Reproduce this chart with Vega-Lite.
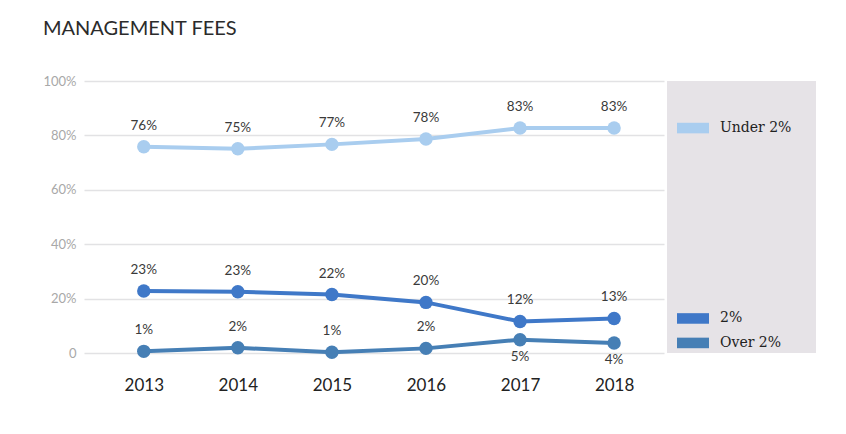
{
  "$schema": "https://vega.github.io/schema/vega-lite/v6.json",
  "background": "white",
  "padding": {"left": 42, "top": 19, "right": 5, "bottom": 5},
  "title": {
    "text": "MANAGEMENT FEES",
    "anchor": "start",
    "frame": "bounds",
    "font": "Lato",
    "fontSize": 20,
    "fontWeight": "normal",
    "color": "#2b2b2b",
    "offset": 36
  },
  "config": {
    "view": {"stroke": null},
    "font": "Lato"
  },
  "data": {
    "values": [
      {"year": "2013", "series": "Under 2%", "value": 75.8, "label": "76%"},
      {"year": "2014", "series": "Under 2%", "value": 75.1, "label": "75%"},
      {"year": "2015", "series": "Under 2%", "value": 76.7, "label": "77%"},
      {"year": "2016", "series": "Under 2%", "value": 78.7, "label": "78%"},
      {"year": "2017", "series": "Under 2%", "value": 82.7, "label": "83%"},
      {"year": "2018", "series": "Under 2%", "value": 82.7, "label": "83%"},
      {"year": "2013", "series": "2%", "value": 22.8, "label": "23%"},
      {"year": "2014", "series": "2%", "value": 22.5, "label": "23%"},
      {"year": "2015", "series": "2%", "value": 21.5, "label": "22%"},
      {"year": "2016", "series": "2%", "value": 18.6, "label": "20%"},
      {"year": "2017", "series": "2%", "value": 11.6, "label": "12%"},
      {"year": "2018", "series": "2%", "value": 12.7, "label": "13%"},
      {"year": "2013", "series": "Over 2%", "value": 0.6, "label": "1%"},
      {"year": "2014", "series": "Over 2%", "value": 1.9, "label": "2%"},
      {"year": "2015", "series": "Over 2%", "value": 0.3, "label": "1%"},
      {"year": "2016", "series": "Over 2%", "value": 1.7, "label": "2%"},
      {"year": "2017", "series": "Over 2%", "value": 4.9, "label": "5%"},
      {"year": "2018", "series": "Over 2%", "value": 3.7, "label": "4%"}
    ]
  },
  "spacing": 3,
  "hconcat": [
    {
      "width": 580,
      "height": 272,
      "encoding": {
        "x": {
          "field": "year",
          "type": "ordinal",
          "scale": {"type": "point", "padding": 0.583, "align": 0.545},
          "axis": {
            "title": null,
            "domain": false,
            "ticks": false,
            "grid": false,
            "labelAngle": 0,
            "labelPadding": 24,
            "labelFont": "Lato",
            "labelFontSize": 17,
            "labelFontWeight": "normal",
            "labelColor": "#222222"
          }
        },
        "y": {
          "field": "value",
          "type": "quantitative",
          "scale": {"domain": [0, 100], "nice": false},
          "axis": {
            "title": null,
            "values": [0, 20, 40, 60, 80, 100],
            "labelExpr": "datum.value == 0 ? '0' : datum.value + '%'",
            "domain": false,
            "ticks": false,
            "labelPadding": 8,
            "labelFont": "Lato",
            "labelFontSize": 13,
            "labelColor": "#a8a8a8",
            "gridColor": "#e2e2e4",
            "gridWidth": 1.5
          }
        },
        "color": {
          "field": "series",
          "type": "nominal",
          "scale": {
            "domain": ["Under 2%", "2%", "Over 2%"],
            "range": ["#a9cdef", "#3f78c8", "#467fb5"]
          },
          "legend": null
        }
      },
      "layer": [
        {"mark": {"type": "line", "strokeWidth": 4}},
        {"mark": {"type": "circle", "size": 180, "opacity": 1}},
        {
          "transform": [{"filter": "!(datum.series == 'Over 2%' && (datum.year == '2017' || datum.year == '2018'))"}],
          "mark": {"type": "text", "dy": -21, "fontSize": 13.5, "color": "#3a3a3a", "font": "Lato"},
          "encoding": {"text": {"field": "label"}, "color": {"value": "#3a3a3a"}}
        },
        {
          "transform": [{"filter": "datum.series == 'Over 2%' && (datum.year == '2017' || datum.year == '2018')"}],
          "mark": {"type": "text", "dy": 17, "fontSize": 13.5, "color": "#3a3a3a", "font": "Lato"},
          "encoding": {"text": {"field": "label"}, "color": {"value": "#3a3a3a"}}
        }
      ]
    },
    {
      "width": 149,
      "height": 272,
      "view": {"fill": "#e6e3e7", "stroke": null},
      "transform": [{"filter": "datum.year == '2018'"}],
      "encoding": {
        "y": {
          "field": "value",
          "type": "quantitative",
          "scale": {"domain": [0, 100], "nice": false},
          "axis": null
        },
        "color": {
          "field": "series",
          "type": "nominal",
          "scale": {
            "domain": ["Under 2%", "2%", "Over 2%"],
            "range": ["#a9cdef", "#3f78c8", "#467fb5"]
          },
          "legend": null
        }
      },
      "layer": [
        {
          "mark": {
            "type": "point",
            "filled": true,
            "opacity": 1,
            "size": 1024,
            "shape": "M-1,-0.33L1,-0.33L1,0.33L-1,0.33Z",
            "xOffset": -48.5
          }
        },
        {
          "mark": {
            "type": "text",
            "align": "left",
            "dx": -21.5,
            "font": "DejaVu Serif",
            "fontSize": 14,
            "fontWeight": "normal",
            "color": "#222222"
          },
          "encoding": {"text": {"field": "series"}, "color": {"value": "#222222"}}
        }
      ]
    }
  ]
}
